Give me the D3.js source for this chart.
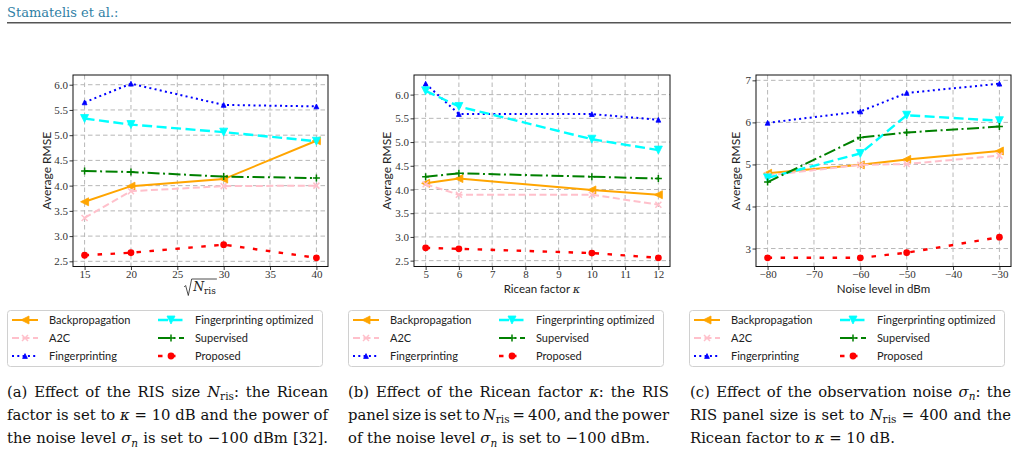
<!DOCTYPE html>
<html><head><meta charset="utf-8">
<script src="https://cdn.jsdelivr.net/npm/d3@7"></script>
<style>body{margin:0;background:#fff} svg{display:block}</style>
</head><body><svg id="c" width="1018" height="475"></svg>
<script>
// ---------- data ----------
const seriesNames = ["Backpropagation","A2C","Fingerprinting","Fingerprinting optimized","Supervised","Proposed"];

// (a) RIS size sqrt(N_ris)
const xA = [15, 20, 30, 40];
const backpropA = [3.68, 3.99, 4.13, 4.89];
const a2cA      = [3.36, 3.89, 3.99, 4.00];
const fpA       = [5.65, 6.02, 5.60, 5.57];
const fpOptA    = [5.33, 5.21, 5.06, 4.88];
const supA      = [4.29, 4.27, 4.18, 4.15];
const propA     = [2.62, 2.67, 2.83, 2.57];
const xTicksA = [15, 20, 25, 30, 35, 40];
const yTicksA = [2.5, 3.0, 3.5, 4.0, 4.5, 5.0, 5.5, 6.0];

// (b) Ricean factor kappa
const xB = [5, 6, 10, 12];
const backpropB = [4.13, 4.23, 3.99, 3.89];
const a2cB      = [4.11, 3.89, 3.89, 3.68];
const fpB       = [6.23, 5.59, 5.59, 5.47];
const fpOptB    = [6.08, 5.75, 5.06, 4.83];
const supB      = [4.27, 4.34, 4.27, 4.23];
const propB     = [2.77, 2.75, 2.66, 2.56];
const xTicksB = [5, 6, 7, 8, 9, 10, 11, 12];
const yTicksB = [2.5, 3.0, 3.5, 4.0, 4.5, 5.0, 5.5, 6.0];

// (c) Noise level in dBm
const xC = [-80, -60, -50, -30];
const backpropC = [4.79, 4.99, 5.12, 5.32];
const a2cC      = [4.74, 4.99, 5.01, 5.21];
const fpC       = [5.99, 6.26, 6.70, 6.92];
const fpOptC    = [4.68, 5.26, 6.17, 6.04];
const supC      = [4.58, 5.64, 5.76, 5.90];
const propC     = [2.78, 2.78, 2.90, 3.27];
const xTicksC = [-80, -70, -60, -50, -40, -30];
const yTicksC = [3, 4, 5, 6, 7];

// ---------- styles ----------
const styles = [
  {color:"#FFA500", dash:null,            width:2,   marker:"left",   ms:4},
  {color:"#FFC0CB", dash:"7,3.5",         width:2,   marker:"x",      ms:3},
  {color:"#0000FF", dash:"2,3.3",         width:2,   marker:"up",     ms:2.4},
  {color:"#00FFFF", dash:"10,4.5",        width:2.4, marker:"down",   ms:4},
  {color:"#008000", dash:"12,3.5,2,3.5",  width:2,   marker:"plus",   ms:3.5},
  {color:"#FF0000", dash:"4.5,8.5",       width:2.4, marker:"circle", ms:3.4}
];
const svg = d3.select("#c");
const TOP = 75, BOTTOM = 266.5;
const tickFont = "'Liberation Serif', serif";
const sansFont = "Lato, 'DejaVu Sans', sans-serif";
const capFont = "'DejaVu Serif', serif";

function markerPath(type, s){
  switch(type){
    case "left":  return `M${-s},0L${s},${-s}L${s},${s}Z`;
    case "up":    return `M0,${-s}L${-s},${s}L${s},${s}Z`;
    case "down":  return `M0,${s}L${-s},${-s}L${s},${-s}Z`;
    case "x":     return `M${-s},${-s}L${s},${s}M${-s},${s}L${s},${-s}`;
    case "plus":  return `M${-s},0L${s},0M0,${-s}L0,${s}`;
  }
}
function drawMarker(g, st, cx, cy){
  if(st.marker === "circle"){
    g.append("circle").attr("cx",cx).attr("cy",cy).attr("r",st.ms).attr("fill",st.color);
  } else if(st.marker === "x" || st.marker === "plus"){
    g.append("path").attr("transform",`translate(${cx},${cy})`).attr("d",markerPath(st.marker,st.ms))
      .attr("stroke",st.color).attr("stroke-width",1.5).attr("fill","none");
  } else {
    g.append("path").attr("transform",`translate(${cx},${cy})`).attr("d",markerPath(st.marker,st.ms))
      .attr("fill",st.color).attr("stroke",st.color).attr("stroke-width",0.8);
  }
}
const padExt = e => { const r = e[1]-e[0]; return [e[0]-0.05*r, e[1]+0.05*r]; };
const fmtMinus = v => String(v).replace("-", "\u2212");

function drawPanel(cfg){
  const g = svg.append("g");
  const x = d3.scaleLinear().domain(padExt(d3.extent(cfg.xs))).range([cfg.left, cfg.right]);
  const y = d3.scaleLinear().domain(padExt(d3.extent(cfg.series.flat()))).range([BOTTOM, TOP]);
  // grid
  const grid = g.append("g").attr("stroke","#b0b0b0").attr("stroke-width",1).attr("stroke-dasharray","4.5,3").attr("opacity",0.9);
  cfg.xTicks.forEach(t => grid.append("line").attr("x1",x(t)).attr("x2",x(t)).attr("y1",TOP).attr("y2",BOTTOM));
  cfg.yTicks.forEach(t => grid.append("line").attr("y1",y(t)).attr("y2",y(t)).attr("x1",cfg.left).attr("x2",cfg.right));
  // axes
  const ax = g.append("g").attr("transform",`translate(0,${BOTTOM})`)
    .call(d3.axisBottom(x).tickValues(cfg.xTicks).tickSize(3.5).tickPadding(2).tickFormat(cfg.xFmt));
  const ay = g.append("g").attr("transform",`translate(${cfg.left},0)`)
    .call(d3.axisLeft(y).tickValues(cfg.yTicks).tickSize(3.5).tickPadding(1.5).tickFormat(cfg.yFmt));
  [ax, ay].forEach(a => {
    a.select(".domain").remove();
    a.selectAll(".tick line").attr("stroke","#222").attr("stroke-width",0.9);
    a.selectAll(".tick text").attr("font-family",tickFont).attr("font-size",11).attr("fill","#333");
  });
  ax.selectAll(".tick text").attr("y",11).attr("dy",0);
  // series
  cfg.series.forEach((vals, i) => {
    const st = styles[i];
    const line = d3.line().x((d,j) => x(cfg.xs[j])).y(d => y(d));
    g.append("path").datum(vals).attr("d",line).attr("fill","none")
      .attr("stroke",st.color).attr("stroke-width",st.width)
      .attr("stroke-dasharray",st.dash);
    vals.forEach((v,j) => drawMarker(g, st, x(cfg.xs[j]), y(v)));
  });
  // frame
  g.append("rect").attr("x",cfg.left).attr("y",TOP).attr("width",cfg.right-cfg.left).attr("height",BOTTOM-TOP)
    .attr("fill","none").attr("stroke","#111").attr("stroke-width",1);
  // y label
  g.append("text").attr("transform",`translate(${cfg.ylx},${(TOP+BOTTOM)/2}) rotate(-90)`)
    .attr("text-anchor","middle").attr("font-family",sansFont).attr("font-size",12).attr("fill","#222")
    .text("Average RMSE");
  // x label
  cfg.xLabel(g, (cfg.left+cfg.right)/2);
  // legend
  drawLegend(cfg.legX);
}

function drawLegend(lx){
  const g = svg.append("g");
  g.append("rect").attr("x",lx+0.5).attr("y",310.5).attr("width",315).attr("height",56).attr("rx",3)
    .attr("fill","#fff").attr("stroke","#d0d0d0").attr("stroke-width",1);
  seriesNames.forEach((name,i) => {
    const st = styles[i];
    const col = i < 3 ? 0 : 1, row = i % 3;
    const sx = lx + (col ? 151 : 5), cy = 320 + row*18;
    g.append("line").attr("x1",sx).attr("x2",sx+26).attr("y1",cy).attr("y2",cy)
      .attr("stroke",st.color).attr("stroke-width",st.width).attr("stroke-dasharray",st.dash);
    drawMarker(g, st, sx+13, cy);
    g.append("text").attr("x",sx+37).attr("y",cy+4).attr("font-family",sansFont).attr("font-size",11)
      .attr("fill","#222").text(name);
  });
}

function plainLabel(txt, parts){
  return (g, cx) => {
    const t = g.append("text").attr("x",cx).attr("y",292.5).attr("text-anchor","middle")
      .attr("font-family",sansFont).attr("font-size",11.5).attr("fill","#222");
    parts.forEach(p => t.append("tspan").attr("font-style",p.i?"italic":null)
      .attr("font-family",p.i?capFont:null).text(p.t));
  };
}
function sqrtLabel(g, cx){
  const yb = 291;
  const t = g.append("text").attr("y",yb).attr("font-family",capFont).attr("font-size",12.5).attr("fill","#222");
  t.append("tspan").attr("font-style","italic").text("N");
  t.append("tspan").attr("font-size",9).attr("dy",3).text("ris");
  const w = t.node().getComputedTextLength();
  const x0 = cx - (w+8)/2 + 8;
  t.attr("x",x0);
  const yt = yb - 12;
  g.append("path").attr("d",`M${x0-9},${yb-4}L${x0-7.5},${yb-5.5}L${x0-4.8},${yb+4.5}L${x0-1.5},${yt}L${x0+w+1},${yt}`)
    .attr("fill","none").attr("stroke","#222").attr("stroke-width",0.8);
}

drawPanel({xs:xA, series:[backpropA,a2cA,fpA,fpOptA,supA,propA], xTicks:xTicksA, yTicks:yTicksA,
  left:73, right:328, ylx:50.5, legX:7, xFmt:d=>d, yFmt:d3.format(".1f"), xLabel:sqrtLabel});
drawPanel({xs:xB, series:[backpropB,a2cB,fpB,fpOptB,supB,propB], xTicks:xTicksB, yTicks:yTicksB,
  left:414, right:670, ylx:391, legX:348, xFmt:d=>d, yFmt:d3.format(".1f"),
  xLabel:plainLabel("", [{t:"Ricean factor "},{t:"\u03BA",i:true}])});
drawPanel({xs:xC, series:[backpropC,a2cC,fpC,fpOptC,supC,propC], xTicks:xTicksC, yTicks:yTicksC,
  left:756, right:1011, ylx:740, legX:689, xFmt:fmtMinus, yFmt:d=>d,
  xLabel:plainLabel("", [{t:"Noise level in dBm"}])});

// header
svg.append("text").attr("x",7).attr("y",16.5).attr("font-family",capFont).attr("font-size",13)
  .attr("fill","#2f7fa5").text("Stamatelis et al.:");
svg.append("line").attr("x1",7).attr("x2",1011).attr("y1",22.7).attr("y2",22.7).attr("stroke","#555").attr("stroke-width",1.4);

// captions
const N = [{t:"N",i:1},{t:"ris",sub:1}];
const SIG = [{t:"\u03C3",i:1},{t:"n",i:1,sub:1}];
const K = [{t:"\u03BA",i:1}];
const captions = [
  {x0:7, x1:328, lines:[
    {j:1, segs:[{t:"(a) Effect of the RIS size "},...N,{t:": the Ricean"}]},
    {j:1, segs:[{t:"factor is set to "},...K,{t:" = 10 dB and the power of"}]},
    {j:1, segs:[{t:"the noise level "},...SIG,{t:" is set to \u2212100 dBm [32]."}]}]},
  {x0:348, x1:669, lines:[
    {j:1, segs:[{t:"(b) Effect of the Ricean factor "},...K,{t:": the RIS"}]},
    {j:1, segs:[{t:"panel size is set to "},...N,{t:" = 400, and the power"}]},
    {j:0, segs:[{t:"of the noise level "},...SIG,{t:" is set to \u2212100 dBm."}]}]},
  {x0:690, x1:1011, lines:[
    {j:1, segs:[{t:"(c) Effect of the observation noise "},...SIG,{t:": the"}]},
    {j:1, segs:[{t:"RIS panel size is set to "},...N,{t:" = 400 and the"}]},
    {j:0, segs:[{t:"Ricean factor to "},...K,{t:" = 10 dB."}]}]}
];
captions.forEach(c => {
  c.lines.forEach((ln, li) => {
    const t = svg.append("text").attr("x",c.x0).attr("y",396.5 + li*23.3)
      .attr("font-family",capFont).attr("font-size",14.8).attr("fill","#111");
    let inSub = false;
    ln.segs.forEach(s => {
      const ts = t.append("tspan").text(s.t);
      if(s.i) ts.attr("font-style","italic");
      if(s.sub && !inSub){ ts.attr("font-size",10.5).attr("dy",3.5); inSub = true; }
      else if(!s.sub && inSub){ ts.attr("dy",-3.5); inSub = false; }
    });
    if(ln.j){
      const w = t.node().getComputedTextLength();
      const spaces = ln.segs.map(s=>s.t).join("").split(" ").length - 1;
      if(spaces > 0) t.attr("word-spacing", ((c.x1 - c.x0) - w)/spaces);
    }
  });
});
</script></body></html>
